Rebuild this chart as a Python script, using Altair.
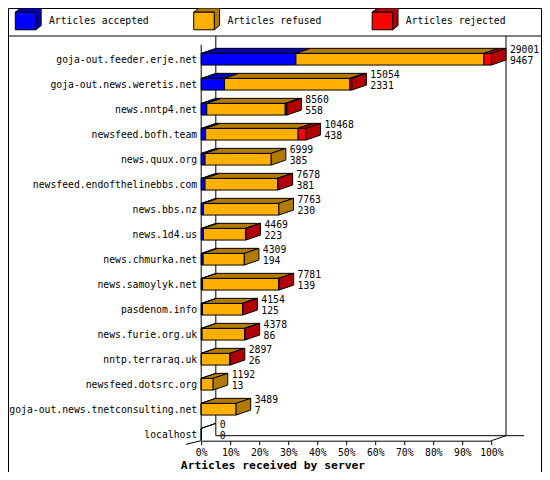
import json

import altair as alt
import pandas as pd

# servers, top to bottom, with the counts
servers = [
    "goja-out.feeder.erje.net",
    "goja-out.news.weretis.net",
    "news.nntp4.net",
    "newsfeed.bofh.team",
    "news.quux.org",
    "newsfeed.endofthelinebbs.com",
    "news.bbs.nz",
    "news.1d4.us",
    "news.chmurka.net",
    "news.samoylyk.net",
    "pasdenom.info",
    "news.furie.org.uk",
    "nntp.terraraq.uk",
    "newsfeed.dotsrc.org",
    "goja-out.news.tnetconsulting.net",
    "localhost",
]
total = [29001, 15054, 8560, 10468, 6999, 7678, 7763, 4469, 4309, 7781, 4154, 4378, 2897, 1192, 3489, 0]
accepted = [9467, 2331, 558, 438, 385, 381, 230, 223, 194, 139, 125, 86, 26, 13, 7, 0]
refused = [18794, 12533, 7842, 9250, 6614, 7257, 7533, 4216, 4115, 7612, 4009, 4272, 2856, 1179, 3482, 0]
rejected = [740, 190, 160, 780, 0, 40, 0, 30, 0, 30, 20, 20, 15, 0, 0, 0]

segments = ["accepted", "refused", "rejected"]
legend_labels = ["Articles accepted", "Articles refused", "Articles rejected"]
colors = ["#0000ff", "#ffb000", "#ff0000"]
shades = ["#0000b2", "#b27b00", "#b20000"]
tick_values = list(range(0, 101, 10))

FONT = "DejaVu Sans Mono"
FS = 9.75          # small text
S = 0.975          # slight horizontal squeeze so the page margin does not cut anything

# fake 3d: depth to the right (in % of x) and upwards (in rows)
DX = 5.04
DY = 0.2
H = 0.234          # half height of a bar front, in rows
TOP = -0.928       # y domain, in rows
BOTTOM = 15.26

peak = max(total)
front, tops, sides, labels = [], [], [], []
for r in range(len(servers)):
    counts = [accepted[r], refused[r], rejected[r]]
    x0 = 0.0
    last = None
    for seg, n in zip(segments, counts):
        x1 = x0 + n / peak * 100
        if n > 0 or (total[r] == 0 and seg == "accepted"):
            key = "%d-%s" % (r, seg)
            front.append(dict(seg=seg, x0=x0, x1=x1, ya=r - H, yb=r + H))
            tops.append(dict(key=key, shade=seg + "-shade", y=r - H, xa=x0, xb=x1))
            tops.append(dict(key=key, shade=seg + "-shade", y=r - H - DY, xa=x0 + DX, xb=x1 + DX))
            last = seg
        x0 = x1
    if total[r] > 0:
        sides.append(dict(row=r, shade=last + "-shade", x=x0, ya=r + H, yb=r - H))
        sides.append(dict(row=r, shade=last + "-shade", x=x0 + DX, ya=r + H - DY, yb=r - H - DY))
    labels.append(dict(row=r, x=x0 + DX, total=str(total[r]), accepted=str(accepted[r])))

front = pd.DataFrame(front)
tops = pd.DataFrame(tops)
sides = pd.DataFrame(sides)
labels = pd.DataFrame(labels)

# the walls and floor of the box
frame = pd.DataFrame([
    dict(x=0, x2=0, y=-0.58, y2=BOTTOM),
    dict(x=DX, x2=DX, y=TOP, y2=BOTTOM - DY),
    dict(x=100 + DX, x2=100 + DX, y=TOP, y2=BOTTOM - DY),
    dict(x=DX, x2=111.3, y=BOTTOM - DY, y2=BOTTOM - DY),
    dict(x=100, x2=100 + DX, y=BOTTOM, y2=BOTTOM - DY),
    dict(x=-5.3, x2=0, y=BOTTOM + 0.144, y2=BOTTOM),
])

xscale = alt.Scale(domain=[0, 100], nice=False, zero=False)
yscale = alt.Scale(domain=[TOP, BOTTOM], reverse=True, nice=False, zero=False)
fill_scale = alt.Scale(domain=segments + [s + "-shade" for s in segments], range=colors + shades)

xaxis = alt.Axis(
    values=tick_values, labelExpr="datum.value + '%'", grid=False,
    tickSize=4, tickColor="black", domainColor="black", labelFlush=False,
    labelFont=FONT, labelFontSize=FS, labelColor="black",
    labelBaseline="middle", labelPadding=7.6,
    title="Articles received by server", titleFont=FONT, titleFontSize=11.35,
    titleFontWeight="bold", titleColor="black", titleX=71.3, titleY=24.3,
    titleAlign="center", titleBaseline="middle",
)
yaxis = alt.Axis(
    values=list(range(len(servers))), labelExpr=json.dumps(servers) + "[datum.value]",
    domain=False, ticks=False, tickSize=0, grid=False, labelFlush=False,
    labelPadding=4.5, labelLimit=400, labelFont=FONT, labelFontSize=FS, labelColor="black",
    labelBaseline="middle", title=None,
)


def X(field):
    return alt.X(field + ":Q", scale=xscale, axis=xaxis, stack=None)


def Y(field):
    return alt.Y(field + ":Q", scale=yscale, axis=yaxis, stack=None)


walls = alt.Chart(frame).mark_rule(color="black", strokeWidth=1).encode(
    x=X("x"), x2="x2", y=Y("y"), y2="y2"
)
fronts = alt.Chart(front).mark_rect(stroke="black", strokeWidth=1).encode(
    x=X("x0"), x2="x1", y=Y("ya"), y2="yb",
    fill=alt.Fill("seg:N", scale=fill_scale, legend=None),
)
top_faces = alt.Chart(tops).mark_area(orient="horizontal", stroke="black", strokeWidth=1).encode(
    x=X("xa"), x2="xb", y=Y("y"), detail="key:N",
    fill=alt.Fill("shade:N", scale=fill_scale, legend=None),
)
side_faces = alt.Chart(sides).mark_area(orient="vertical", stroke="black", strokeWidth=1).encode(
    x=X("x"), y=Y("ya"), y2="yb", detail="row:N",
    fill=alt.Fill("shade:N", scale=fill_scale, legend=None),
)
totals = alt.Chart(labels).mark_text(align="left", baseline="middle", dx=3.9, dy=-9.2, font=FONT, fontSize=FS, color="black").encode(
    x=X("x"), y=Y("row"), text="total:N"
)
accepts = alt.Chart(labels).mark_text(align="left", baseline="middle", dx=3.9, dy=1.6, font=FONT, fontSize=FS, color="black").encode(
    x=X("x"), y=Y("row"), text="accepted:N"
)

plot = alt.layer(walls, fronts, top_faces, side_faces, totals, accepts)

# legend row above the plot, drawn as little boxes
legend_df = pd.DataFrame(dict(i=[0, 1, 2], seg=segments, shade=[s + "-shade" for s in segments], label=legend_labels))
lx = alt.X("i:Q", scale=alt.Scale(domain=[0, 2], range=[-175.65, 181.2]), axis=None)
BOX_FRONT = "M-1,-0.857L1,-0.857L1,0.857L-1,0.857Z"
BOX_SHADE = "M-1,-0.857L-0.476,-1.267L1.524,-1.267L1.524,0.447L1,0.857L1,-0.857Z"

box_shade = alt.Chart(legend_df).mark_point(shape=BOX_SHADE, size=420, filled=True, opacity=1, stroke="black", strokeWidth=1).encode(
    x=lx, y=alt.value(-15), fill=alt.Fill("shade:N", scale=fill_scale, legend=None)
)
box_front = alt.Chart(legend_df).mark_point(shape=BOX_FRONT, size=420, filled=True, opacity=1, stroke="black", strokeWidth=1).encode(
    x=lx, y=alt.value(-15), fill=alt.Fill("seg:N", scale=fill_scale, legend=None)
)
box_text = alt.Chart(legend_df).mark_text(align="left", baseline="middle", dx=23.4, font=FONT, fontSize=FS, color="black").encode(
    x=lx, y=alt.value(-15), text="label:N"
)

# outer border (the page margin eats the bottom edge) and the legend separator
one = alt.Data(values=[{}])
edge_style = dict(color="black", strokeWidth=1)
border_top = alt.Chart(one).mark_rule(**edge_style).encode(
    x=alt.value(-192.7), x2=alt.value(340.3), y=alt.value(-27.5)
)
border_left = alt.Chart(one).mark_rule(**edge_style).encode(
    x=alt.value(-192.7), y=alt.value(-27.5), y2=alt.value(436)
)
border_right = alt.Chart(one).mark_rule(**edge_style).encode(
    x=alt.value(340.3), y=alt.value(-27.5), y2=alt.value(436)
)
separator = alt.Chart(one).mark_rule(**edge_style).encode(
    x=alt.value(-193.2), x2=alt.value(340.8), y=alt.value(0)
)
legend = alt.layer(border_top, border_left, border_right, separator, box_shade, box_front, box_text)

chart = alt.layer(plot, legend).resolve_scale(x="independent").properties(
    width=297.6 * S,
    height=404.7,
    autosize=alt.AutoSizeParams(type="none"),
    padding={"left": 193.2, "top": 28, "right": 534 - 193.2 - 297.6 * S, "bottom": 31.3},
    background="white",
).configure_view(strokeWidth=0)

chart.save("out.html", embed_options={"renderer": "svg", "actions": False})
